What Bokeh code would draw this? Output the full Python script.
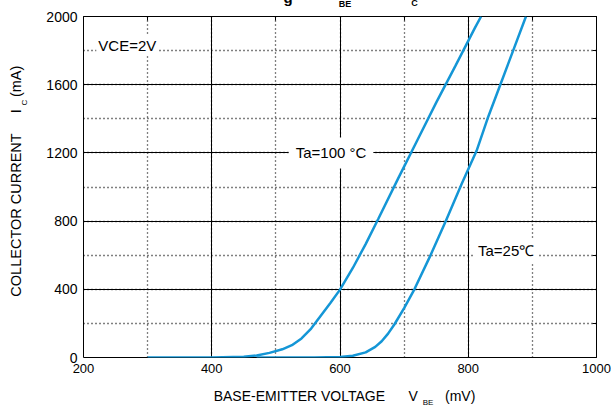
import math
from bokeh.plotting import figure
from bokeh.models import Label, LinearAxis, Range1d, SingleIntervalTicker, Grid
from bokeh.embed import file_html
from bokeh.resources import INLINE

# Ta = 100 C curve
vbe_100 = [300, 400, 450, 470, 490, 510, 525, 540, 555, 570, 585, 600, 620, 640, 660, 690, 720, 750, 780, 810, 820]
ic_100 = [0, 0, 4, 12, 27, 48, 72, 112, 170, 245, 320, 398, 525, 665, 815, 1045, 1270, 1495, 1710, 1930, 2000]
# Ta = 25 C curve
vbe_25 = [470, 560, 600, 620, 640, 655, 665, 675, 685, 700, 716, 740, 765, 790, 813, 830, 850, 870, 890]
ic_25 = [0, 0, 3, 10, 30, 62, 95, 140, 195, 290, 400, 590, 800, 1020, 1212, 1400, 1600, 1800, 2000]

x_tick_labels = ["200", "400", "600", "800", "1000"]
y_tick_labels = ["0", "400", "800", "1200", "1600", "2000"]

FONT = "Liberation Sans"
BLUE = "#1496d6"
NB = "\u00a0"

p = figure(width=611, height=406, x_range=Range1d(200, 1000), y_range=Range1d(0, 2000),
           output_backend="svg", toolbar_location=None,
           min_border_left=83, min_border_right=15, min_border_top=16, min_border_bottom=49,
           x_axis_type=None, y_axis_type=None)
p.background_fill_color = "white"
p.border_fill_color = "white"
p.outline_line_color = "black"
p.outline_line_width = 1

xt = SingleIntervalTicker(interval=200, num_minor_ticks=2)
yt = SingleIntervalTicker(interval=400, num_minor_ticks=2)

xb = LinearAxis(ticker=xt)
yl = LinearAxis(ticker=yt)
for ax in (xb, yl):
    ax.axis_line_color = None
    ax.major_tick_in = 0
    ax.major_tick_out = 0
    ax.minor_tick_in = 0
    ax.minor_tick_out = 0
    ax.major_label_text_font = FONT
    ax.major_label_text_color = "black"
    ax.major_label_standoff = 6
xb.major_label_text_font_size = "13px"
yl.major_label_text_font_size = "14px"
p.add_layout(xb, "below")
p.add_layout(yl, "left")

xa = LinearAxis(ticker=xt)
yr = LinearAxis(ticker=yt)
for ax in (xa, yr):
    ax.axis_line_color = None
    ax.major_tick_in = 4
    ax.major_tick_out = 0
    ax.minor_tick_in = 4
    ax.minor_tick_out = 0
    ax.major_tick_line_color = "black"
    ax.minor_tick_line_color = "black"
    ax.major_label_text_font_size = "0px"
    ax.major_label_standoff = 0
p.add_layout(xa, "above")
p.add_layout(yr, "right")

gx = Grid(dimension=0, ticker=xt, grid_line_color="black", grid_line_width=1,
          minor_grid_line_color="black", minor_grid_line_dash="1 3", minor_grid_line_width=1.3)
gy = Grid(dimension=1, ticker=yt, grid_line_color="black", grid_line_width=1,
          minor_grid_line_color="black", minor_grid_line_dash="1 3", minor_grid_line_width=1.3)
p.add_layout(gx)
p.add_layout(gy)

p.line(vbe_100, ic_100, line_color=BLUE, line_width=2.5)
p.line(vbe_25, ic_25, line_color=BLUE, line_width=2.5)


def lab(x, y, text, size="14px", bg=None, align="left", baseline="alphabetic", angle=0,
        style="normal", pad=0, place="center"):
    kw = {}
    if bg:
        kw["background_fill_color"] = bg
        kw["padding"] = pad
    L = Label(x=x, y=y, text=text, text_font=FONT, text_font_size=size, text_color="black",
              text_align=align, text_baseline=baseline, angle=angle, text_font_style=style, **kw)
    if place == "center":
        p.add_layout(L)
    else:
        p.add_layout(L, place)


# in-plot annotations
lab(220, 1832, "VCE=2V", size="15px", bg="white", pad=2)
lab(586, 1200, "Ta=100 \u00b0C", size="15px", bg="white", align="center", baseline="middle", pad=7)
lab(859, 626, "Ta=25\u2103", size="15px", bg="white", align="center", baseline="middle", pad=4)

# axis titles (in side panels so that they are not clipped to the frame)
lab(403, -228, "BASE-EMITTER VOLTAGE" + NB * 6 + "V" + NB * 7 + "(mV)", size="14px", place="below")
lab(729, -262, "BE", size="8px", place="below")

lab(95.3, 357, "COLLECTOR CURRENT" + NB * 5 + "I" + NB * 3 + "(mA)", size="14.5px",
    angle=math.pi / 2, place="left")
lab(107.5, 1478, "C", size="8px", angle=math.pi / 2, place="left")

# top title fragments (cut off by page edge)
lab(512, 2114, "g", size="15px", style="bold", place="left")
lab(598, 2076, "BE", size="9px", style="bold", place="above")
lab(711, 2081, "C", size="9px", style="bold", place="right")

open("out.html", "w").write(file_html(p, INLINE))
